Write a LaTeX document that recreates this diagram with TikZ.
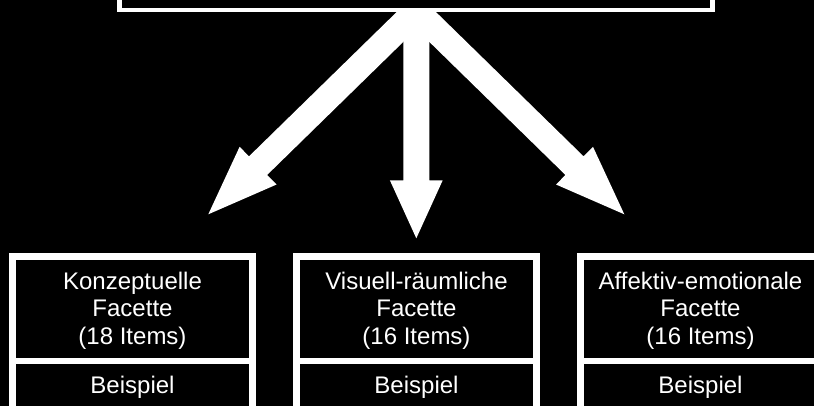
\documentclass[tikz,border=0pt]{standalone}
\usepackage{fontspec}
\setmainfont{Liberation Sans}
\usetikzlibrary{calc}
\tikzset{
  arrowfill/.style={fill=white},
  whitebox/.style={fill=white, draw=none, inner sep=0pt, outer sep=0pt},
  blackbox/.style={fill=black, draw=none, inner sep=0pt, outer sep=0pt},
  facettext/.style={text=white, align=center, inner sep=0pt,
    font=\fontsize{24}{27.5}\selectfont},
  exampletext/.style={text=white, inner sep=0pt, anchor=base,
    font=\fontsize{24}{27.5}\selectfont},
}
\newcommand\blockarrow[3]{%
  \path ($(#2)!#3!(#1)$) coordinate (hb) ($(#1)!-14pt!(#2)$) coordinate (sb);
  \fill[arrowfill] ($(sb)!13pt!90:(#2)$) -- ($(hb)!13pt!90:(#2)$)
    -- ($(hb)!26.4pt!90:(#2)$) -- (#2) -- ($(hb)!26.4pt!-90:(#2)$)
    -- ($(hb)!13pt!-90:(#2)$) -- ($(sb)!13pt!-90:(#2)$) -- cycle;}
\begin{document}
\begin{tikzpicture}[x=1pt,y=-1pt]
\useasboundingbox (0,0) rectangle (814,406);
\clip (0,0) rectangle (814,406);
\fill[black] (0,0) rectangle (814,406);

% arrows
\coordinate (src) at (416.3,11);
\coordinate (tipL) at (208.3,214.3);
\coordinate (tipM) at (416.3,238.3);
\coordinate (tipR) at (624.3,214.3);
\blockarrow{src}{tipL}{69.6pt}
\blockarrow{src}{tipR}{69.6pt}
\blockarrow{src}{tipM}{58pt}

% top box (cut off)
\node[whitebox, minimum width=598pt, minimum height=72pt, anchor=south west] (top) at (117,12) {};
\node[blackbox, minimum width=588pt, minimum height=68pt, anchor=south west] (topin) at (122,8) {};

% bottom boxes
\foreach \n/\x/\txt/\items in {L/9/Konzeptuelle/18, M/293/Visuell-räumliche/16, R/577/Affektiv-emotionale/16}{
  \node[whitebox, minimum width=247pt, minimum height=200pt, anchor=north west] (box\n) at (\x,253) {};
  \node[blackbox, minimum width=233pt, minimum height=98pt, anchor=north west] (up\n) at ($(\x,253)+(7,7)$) {};
  \node[blackbox, minimum width=233pt, minimum height=100pt, anchor=north west] (lo\n) at ($(\x,253)+(7,111)$) {};
  \node[facettext] (t\n) at ($(up\n.center)+(0,1.6)$) {\txt\\Facette\\(\items{} Items)};
  \node[exampletext] (b\n) at ($(\x,393)+(123.5,0)$) {Beispiel};
}
\end{tikzpicture}
\end{document}
